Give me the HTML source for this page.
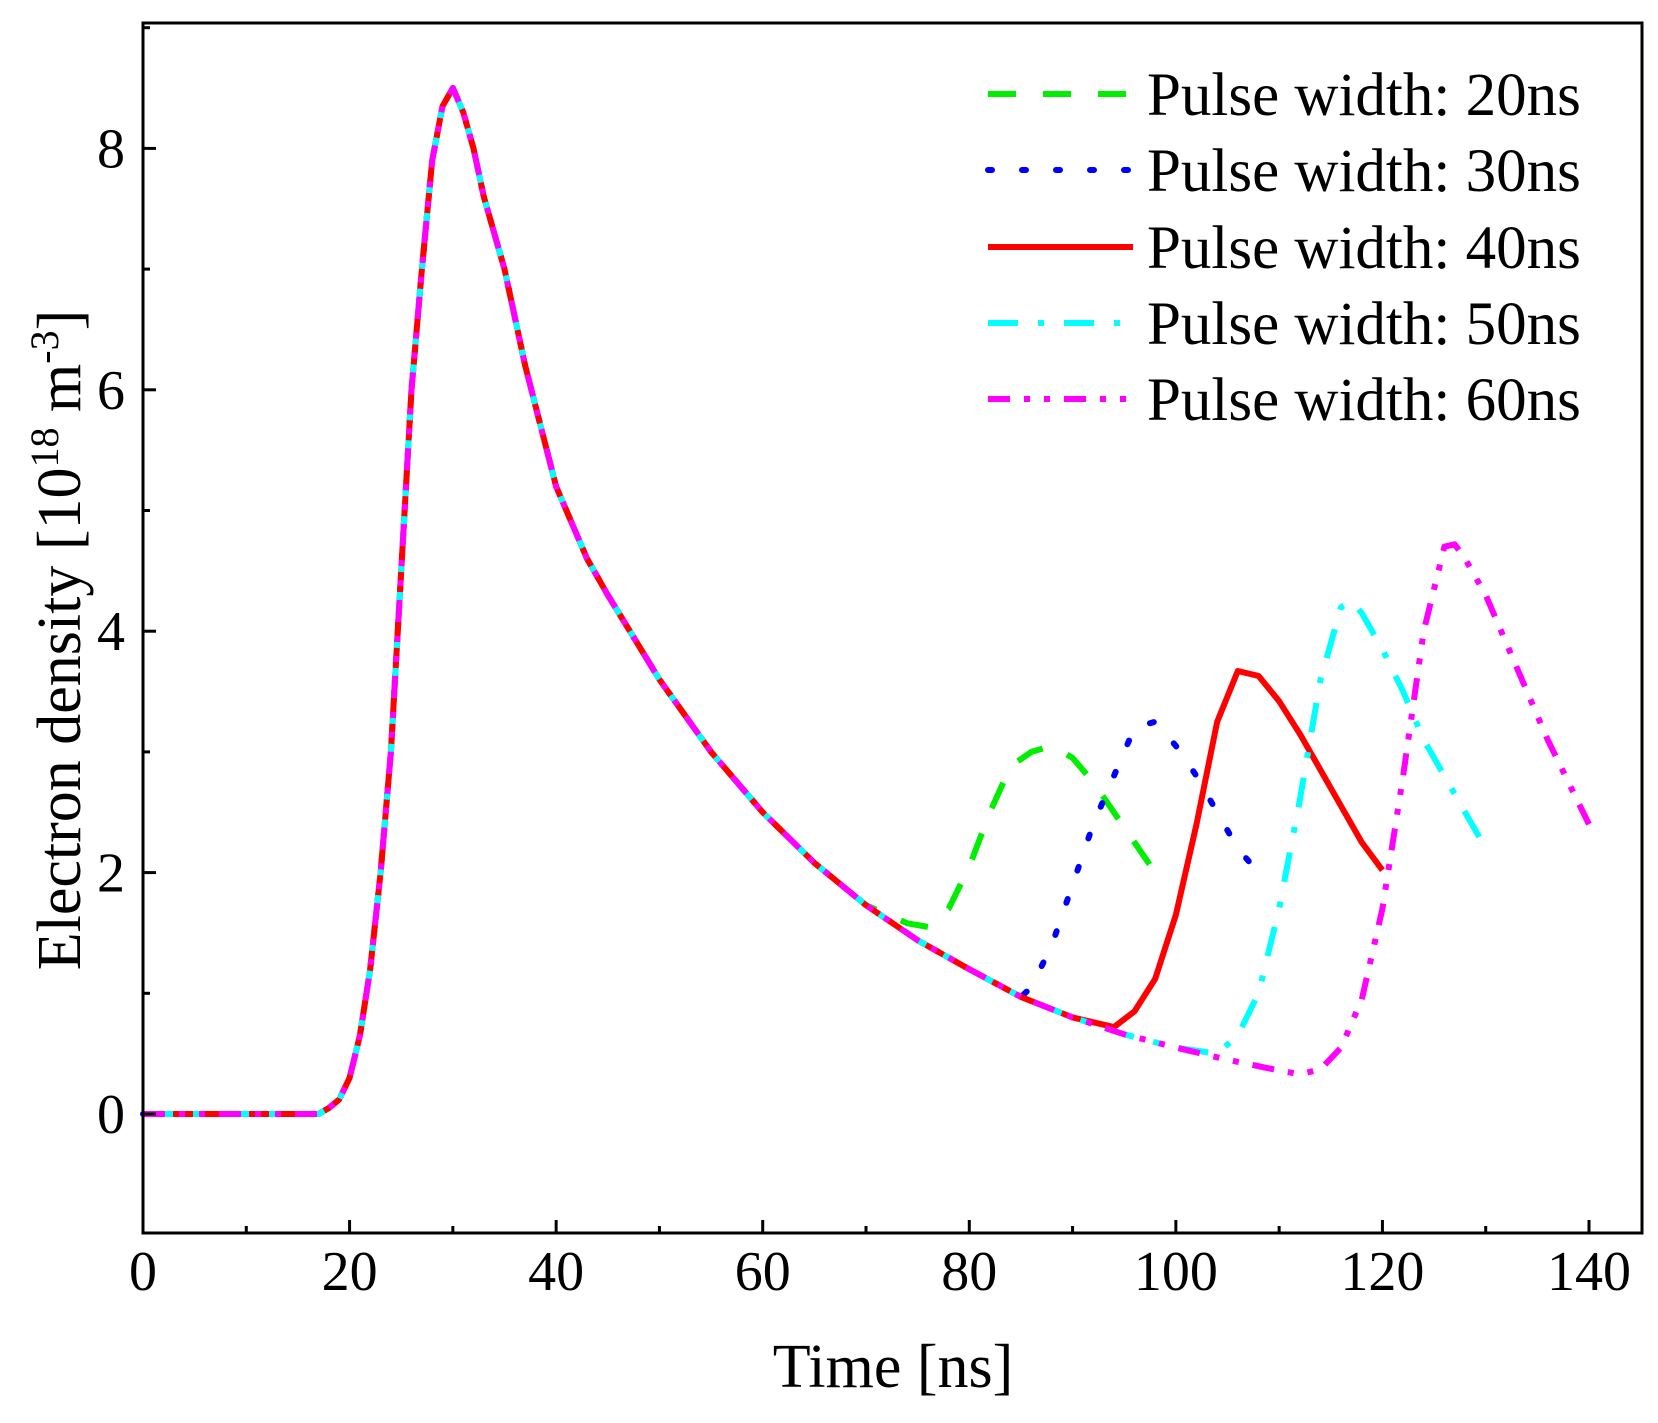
<!DOCTYPE html>
<html><head><meta charset="utf-8"><style>
body{margin:0;background:#fff}
svg{display:block}
text{font-family:"Liberation Serif",serif;fill:#000}
</style></head><body>
<svg id="s" width="1658" height="1423" viewBox="0 0 1658 1423" xmlns="http://www.w3.org/2000/svg">
<rect width="1658" height="1423" fill="#fff"/>
<g id="plot"></g>
<rect x="143" y="23" width="1499" height="1210" fill="none" stroke="#000" stroke-width="3"/>
<g id="ticks" stroke="#000" stroke-width="3"></g>
<g font-size="56" text-anchor="middle" id="xl"></g>
<g font-size="56" text-anchor="end" id="yl"></g>
<text x="893" y="1387" font-size="62" text-anchor="middle">Time [ns]</text>
<text transform="translate(80,640) rotate(-90)" font-size="62" text-anchor="middle">Electron density [10<tspan dy="-22" font-size="40">18</tspan><tspan dy="22"> m</tspan><tspan dy="-22" font-size="40">-3</tspan><tspan dy="22">]</tspan></text>
<g font-size="61">
<line x1="988" y1="94" x2="1133" y2="94" stroke="#00ee00" stroke-width="6" stroke-dasharray="28,27"/>
<text x="1147" y="115">Pulse width: 20ns</text>
<line x1="988" y1="170" x2="1133" y2="170" stroke="#0000ff" stroke-width="6" stroke-dasharray="4,30" stroke-linecap="round"/>
<text x="1147" y="191">Pulse width: 30ns</text>
<line x1="988" y1="247" x2="1133" y2="247" stroke="#ff0000" stroke-width="6"/>
<text x="1147" y="268">Pulse width: 40ns</text>
<line x1="988" y1="323" x2="1133" y2="323" stroke="#00ffff" stroke-width="6" stroke-dasharray="30,20,6,20"/>
<text x="1147" y="344">Pulse width: 50ns</text>
<line x1="988" y1="399" x2="1133" y2="399" stroke="#ff00ff" stroke-width="6" stroke-dasharray="22,14,6,14,6,14"/>
<text x="1147" y="420">Pulse width: 60ns</text>
</g>
</svg>
<script>
var X=function(t){return 143+t*(1589-143)/140},Y=function(v){return 1114-v*120.7};
var base=[[0,0],[17,0],[18,0.05],[19,0.12],[20,0.3],[21,0.65],[22,1.2],[23,2],[24,3],[25,4.5],[26,6],[27,7],[28,7.9],[29,8.35],[30,8.5],[31,8.3],[32,8.0],[33,7.6],[35,7.0],[37,6.2],[40,5.2],[43,4.6],[45,4.3],[50,3.6],[55,3.0],[60,2.5],[65,2.08],[70,1.73],[75,1.44],[80,1.2],[85,0.97],[90,0.8],[95,0.66],[100,0.55],[105,0.45],[110,0.36],[112,0.33]];
function upto(t){return base.filter(function(p){return p[0]<=t})}
var S=[
["#00ee00","28,27","butt",upto(72).concat([[74,1.58],[76,1.55],[78,1.7],[80,2.05],[82,2.5],[84,2.88],[86,3.0],[88,3.05],[90,2.95],[92,2.75],[94,2.5],[96,2.25],[98,2.0],[99,1.9]])],
["#0000ff","4,30","round",upto(85).concat([[86,1.05],[88,1.4],[90,1.9],[92,2.4],[94,2.8],[96,3.2],[98,3.25],[100,3.05],[102,2.8],[104,2.5],[106,2.2],[108,2.0],[109,1.95]])],
["#ff0000","","butt",upto(93).concat([[94,0.72],[96,0.85],[98,1.12],[100,1.65],[102,2.4],[104,3.25],[106,3.67],[108,3.63],[110,3.42],[112,3.15],[114,2.85],[116,2.55],[118,2.25],[120,2.02]])],
["#00ffff","30,20,6,20","butt",upto(103).concat([[104,0.5],[106,0.65],[108,1.0],[110,1.7],[112,2.6],[114,3.6],[116,4.2],[117,4.25],[118,4.15],[120,3.85],[122,3.5],[124,3.1],[126,2.8],[128,2.5],[130,2.2]])],
["#ff00ff","22,14,6,14,6,14","butt",base.concat([[114,0.37],[116,0.55],[118,0.95],[120,1.7],[122,2.8],[124,4.0],[126,4.7],[127,4.72],[128,4.6],[130,4.3],[132,3.9],[134,3.5],[136,3.1],[138,2.75],[140,2.4]])]];
var ns="http://www.w3.org/2000/svg",g=document.getElementById("plot");
S.forEach(function(s){var p=document.createElementNS(ns,"polyline");
p.setAttribute("points",s[3].map(function(q){return X(q[0]).toFixed(1)+","+Y(q[1]).toFixed(1)}).join(" "));
p.setAttribute("fill","none");p.setAttribute("stroke",s[0]);p.setAttribute("stroke-width","6");
p.setAttribute("stroke-linejoin","round");p.setAttribute("stroke-linecap",s[2]);if(s[1])p.setAttribute("stroke-dasharray",s[1]);g.appendChild(p);});
var tk=document.getElementById("ticks"),xl=document.getElementById("xl"),yl=document.getElementById("yl");
function L(a,b,c,d){var l=document.createElementNS(ns,"line");l.setAttribute("x1",a);l.setAttribute("y1",b);l.setAttribute("x2",c);l.setAttribute("y2",d);tk.appendChild(l);}
function T(par,x,y,s){var t=document.createElementNS(ns,"text");t.setAttribute("x",x);t.setAttribute("y",y);t.textContent=s;par.appendChild(t);}
for(var t=10;t<=140;t+=10){var maj=t%20==0;L(X(t),1233,X(t),1233-(maj?13:7));}
for(var t=0;t<=140;t+=20)T(xl,X(t),1290,t);
for(var v=0;v<=9;v++){var maj=v%2==0;L(143,Y(v),143+(maj?13:7),Y(v));if(maj)T(yl,125,Y(v)+19,v);}
</script>
</body></html>
